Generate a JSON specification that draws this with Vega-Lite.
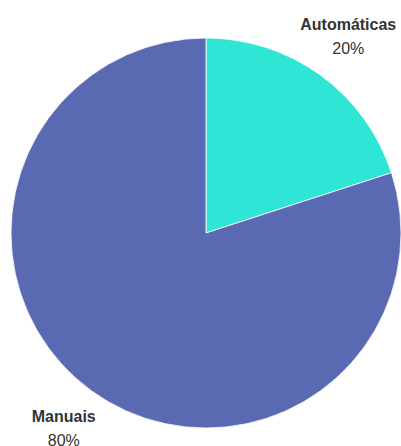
{
  "$schema": "https://vega.github.io/schema/vega-lite/v6.json",
  "autosize": {"type": "none"},
  "width": 390,
  "height": 390,
  "padding": {"left": 11, "top": 38, "right": 0, "bottom": 18},
  "background": "#ffffff",
  "view": {"stroke": null},
  "data": {
    "values": [
      {"tipo": "Automáticas", "valor": 20, "pct": "20%"},
      {"tipo": "Manuais", "valor": 80, "pct": "80%"}
    ]
  },
  "encoding": {
    "theta": {"field": "valor", "type": "quantitative", "stack": true},
    "color": {
      "field": "tipo",
      "type": "nominal",
      "sort": ["Automáticas", "Manuais"],
      "scale": {"domain": ["Automáticas", "Manuais"], "range": ["#2FE5D6", "#5A6AB2"]},
      "legend": null
    }
  },
  "layer": [
    {"mark": {"type": "arc", "outerRadius": 195, "stroke": "#ffffff", "strokeWidth": 0.8}},
    {
      "mark": {"type": "text", "radius": 242, "dy": -12, "font": "Liberation Sans", "fontSize": 16, "fontWeight": "bold", "align": "center", "baseline": "middle", "fill": "#333333"},
      "encoding": {"text": {"field": "tipo"}, "color": {"value": "#333333"}}
    },
    {
      "mark": {"type": "text", "radius": 242, "dy": 12, "font": "Liberation Sans", "fontSize": 16, "align": "center", "baseline": "middle", "fill": "#333333"},
      "encoding": {"text": {"field": "pct"}, "color": {"value": "#333333"}}
    }
  ]
}
